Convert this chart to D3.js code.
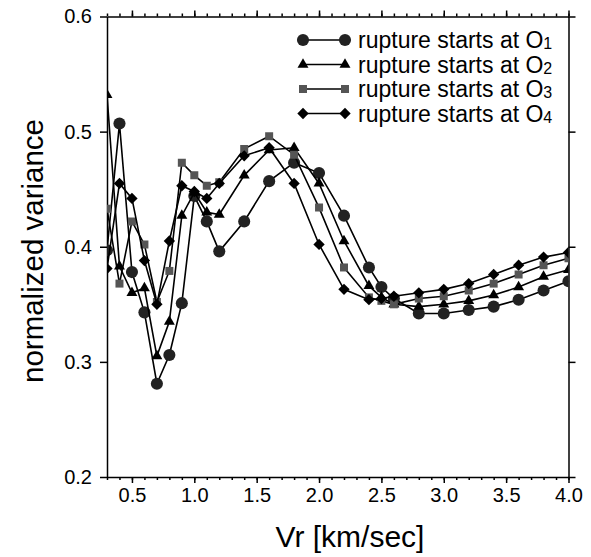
<!DOCTYPE html>
<html>
<head>
<meta charset="utf-8">
<script src="https://cdn.jsdelivr.net/npm/d3@7"></script>
<style>
  body { margin: 0; background: #fff; }
  svg { display: block; font-family: "Liberation Sans", Arial, Helvetica, sans-serif; }
  .axis path, .axis line { stroke: #000; stroke-width: 1.5; }
  .axis text { font-size: 20px; fill: #000; }
</style>
</head>
<body>
<div id="chart"></div>
<script>
// rupture velocity samples (km/sec)
const vrValues = [0.3, 0.4, 0.5, 0.6, 0.7, 0.8, 0.9, 1.0, 1.1, 1.2, 1.4, 1.6, 1.8, 2.0, 2.2, 2.4, 2.5, 2.6, 2.8, 3.0, 3.2, 3.4, 3.6, 3.8, 4.0];

// normalized variance for each rupture start point
const o1Values = [0.397, 0.507, 0.378, 0.343, 0.281, 0.306, 0.351, 0.444, 0.422, 0.396, 0.422, 0.457, 0.473, 0.464, 0.427, 0.382, 0.365, 0.355, 0.342, 0.342, 0.345, 0.348, 0.354, 0.362, 0.370];
const o2Values = [0.532, 0.383, 0.360, 0.364, 0.305, 0.335, 0.427, 0.447, 0.430, 0.428, 0.462, 0.484, 0.486, 0.455, 0.405, 0.366, 0.356, 0.350, 0.348, 0.350, 0.353, 0.358, 0.365, 0.374, 0.380];
const o3Values = [0.433, 0.368, 0.422, 0.402, 0.352, 0.379, 0.473, 0.462, 0.453, 0.456, 0.485, 0.496, 0.480, 0.434, 0.382, 0.356, 0.353, 0.350, 0.355, 0.357, 0.362, 0.368, 0.376, 0.384, 0.390];
const o4Values = [0.381, 0.455, 0.442, 0.388, 0.350, 0.405, 0.453, 0.448, 0.442, 0.455, 0.479, 0.486, 0.455, 0.402, 0.363, 0.354, 0.355, 0.357, 0.360, 0.363, 0.368, 0.376, 0.384, 0.391, 0.395];

const seriesSubscripts = ['1', '2', '3', '4'];
const xMajorTicks = [0.5, 1.0, 1.5, 2.0, 2.5, 3.0, 3.5, 4.0];
const xMinorTicks = [0.3, 0.4, 0.5, 0.6, 0.7, 0.8, 0.9, 1.0, 1.1, 1.2, 1.3, 1.4, 1.5, 1.6, 1.7, 1.8, 1.9, 2.0, 2.1, 2.2, 2.3, 2.4, 2.5, 2.6, 2.7, 2.8, 2.9, 3.0, 3.1, 3.2, 3.3, 3.4, 3.5, 3.6, 3.7, 3.8, 3.9, 4.0];
const yTicks = [0.2, 0.3, 0.4, 0.5, 0.6];

class VarianceChart {
  constructor(_config) {
    this.config = {
      parentElement: _config.parentElement,
      containerWidth: 591,
      containerHeight: 557,
      margin: { top: 16.5, right: 22.5, bottom: 80, left: 107 },
    };
    this.initVis();
  }

  initVis() {
    const vis = this;

    vis.width = vis.config.containerWidth - vis.config.margin.left - vis.config.margin.right;
    vis.height = vis.config.containerHeight - vis.config.margin.top - vis.config.margin.bottom;

    vis.svg = d3.select(vis.config.parentElement).append('svg')
      .attr('width', vis.config.containerWidth)
      .attr('height', vis.config.containerHeight);

    vis.chartArea = vis.svg.append('g')
      .attr('transform', `translate(${vis.config.margin.left},${vis.config.margin.top})`);

    vis.xScale = d3.scaleLinear().domain([0.3, 4.0]).range([0, vis.width]);
    vis.yScale = d3.scaleLinear().domain([0.2, 0.6]).range([vis.height, 0]);

    // markers sitting on the frame get cut by it, as in the original
    vis.svg.append('defs').append('clipPath')
      .attr('id', 'plot-clip')
      .append('rect')
      .attr('width', vis.width)
      .attr('height', vis.height);

    vis.series = [
      { values: o1Values, symbol: d3.symbolCircle, size: 115, fill: '#222', rotate: 0 },
      { values: o2Values, symbol: d3.symbolTriangle, size: 52, fill: '#000', rotate: 0 },
      { values: o3Values, symbol: d3.symbolSquare, size: 64, fill: '#555', rotate: 0 },
      { values: o4Values, symbol: d3.symbolSquare, size: 64, fill: '#000', rotate: 45 },
    ];
    vis.series.forEach((s, i) => { s.sub = seriesSubscripts[i]; });

    vis.renderVis();
  }

  renderVis() {
    const vis = this;

    // axes
    const xAxisG = vis.chartArea.append('g').attr('class', 'axis')
      .attr('transform', `translate(0,${vis.height})`);
    xAxisG.call(d3.axisBottom(vis.xScale).tickValues(xMinorTicks).tickSize(3).tickSizeOuter(0).tickFormat(''));
    xAxisG.append('g').call(d3.axisBottom(vis.xScale).tickValues(xMajorTicks).tickSize(6).tickSizeOuter(0)
      .tickPadding(5).tickFormat(d3.format('.1f')))
      .select('.domain').remove();

    const topAxisG = vis.chartArea.append('g').attr('class', 'axis');
    topAxisG.call(d3.axisTop(vis.xScale).tickValues(xMinorTicks).tickSize(3).tickSizeOuter(0).tickFormat(''));
    topAxisG.append('g').call(d3.axisTop(vis.xScale).tickValues(xMajorTicks).tickSize(6).tickSizeOuter(0).tickFormat(''))
      .select('.domain').remove();

    vis.chartArea.append('g').attr('class', 'axis')
      .call(d3.axisLeft(vis.yScale).tickValues(yTicks).tickSize(7).tickSizeOuter(0)
        .tickPadding(8).tickFormat(d3.format('.1f')));

    vis.chartArea.append('g').attr('class', 'axis')
      .attr('transform', `translate(${vis.width},0)`)
      .call(d3.axisRight(vis.yScale).tickValues(yTicks).tickSize(7).tickSizeOuter(0).tickFormat(''));

    // axis titles
    vis.svg.append('text')
      .attr('x', 350)
      .attr('y', 547)
      .attr('text-anchor', 'middle')
      .style('font-size', '30px')
      .text('Vr [km/sec]');

    vis.svg.append('text')
      .attr('transform', 'translate(43,251) rotate(-90)')
      .attr('text-anchor', 'middle')
      .style('font-size', '29.5px')
      .text('normalized variance');

    // lines and markers
    const line = d3.line()
      .x((d, i) => vis.xScale(vrValues[i]))
      .y((d) => vis.yScale(d));

    const plot = vis.chartArea.append('g').attr('clip-path', 'url(#plot-clip)');

    vis.series.forEach((s) => {
      const g = plot.append('g');
      g.append('path')
        .datum(s.values)
        .attr('fill', 'none')
        .attr('stroke', '#000')
        .attr('stroke-width', 1.6)
        .attr('d', line);
      g.selectAll('path.marker')
        .data(s.values)
        .join('path')
        .attr('class', 'marker')
        .attr('transform', (d, i) => `translate(${vis.xScale(vrValues[i])},${vis.yScale(d)}) rotate(${s.rotate})`)
        .attr('d', d3.symbol().type(s.symbol).size(s.size))
        .attr('fill', s.fill);
    });

    // legend
    const legend = vis.svg.append('g').attr('transform', 'translate(303,40)');
    vis.series.forEach((s, i) => {
      const row = legend.append('g').attr('transform', `translate(0,${i * 24.5})`);
      row.append('line')
        .attr('x1', 0).attr('x2', 42)
        .attr('stroke', '#000')
        .attr('stroke-width', 1.6);
      [0, 42].forEach((x) => {
        row.append('path')
          .attr('transform', `translate(${x},0) rotate(${s.rotate})`)
          .attr('d', d3.symbol().type(s.symbol).size(s.size))
          .attr('fill', s.fill);
      });
      const label = row.append('text')
        .attr('x', 55)
        .attr('y', 8)
        .style('font-size', '23px')
        .text('rupture starts at O');
      label.append('tspan')
        .style('font-size', '16px')
        .attr('dy', 1)
        .text(s.sub);
    });
  }
}

const chart = new VarianceChart({ parentElement: '#chart' });
</script>
</body>
</html>
